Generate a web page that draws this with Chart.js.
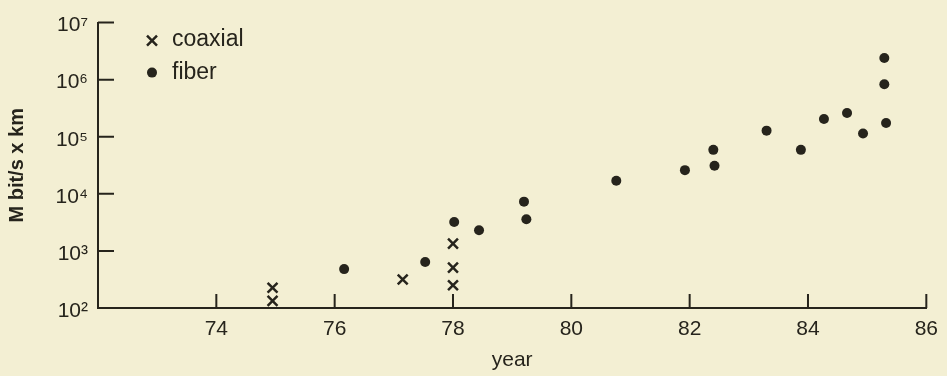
<!DOCTYPE html>
<html>
<head>
<meta charset="utf-8">
<script src="https://cdn.jsdelivr.net/npm/chart.js@4.4.1/dist/chart.umd.min.js"></script>
<style>
  html, body { margin: 0; padding: 0; background: #f3efd3; }
  #wrap { width: 947px; height: 376px; }
</style>
</head>
<body>
<div id="wrap"><canvas id="grafico"></canvas></div>
<script>
// dados
const coaxialYear  = [74.95, 74.95, 77.15, 78.0, 78.0, 78.0];
const coaxialValue = [226, 133, 316, 1340, 510, 250];
const fiberYear  = [76.16, 77.53, 78.02, 78.44, 79.2, 79.24, 80.76, 81.92, 82.4, 82.42,
                    83.3, 83.88, 84.27, 84.66, 84.93, 85.29, 85.29, 85.32];
const fiberValue = [480, 640, 3200, 2300, 7300, 3600, 17000, 26000, 59000, 31000,
                    128000, 59000, 204000, 260000, 114000, 2400000, 830000, 174000];
const xTicks = [74, 76, 78, 80, 82, 84, 86];
const yTicks = [1e2, 1e3, 1e4, 1e5, 1e6, 1e7];

const ink = '#26241c';
const paper = '#f3efd3';
const sup = '⁰¹²³⁴⁵⁶⁷⁸⁹';

Chart.defaults.font.family = '"Liberation Sans", Arial, Helvetica, sans-serif';
Chart.defaults.color = ink;

// ticks para dentro + legenda dentro da área
const extras = {
  id: 'extras',
  beforeDraw(chart) {
    const ctx = chart.ctx;
    ctx.save();
    ctx.fillStyle = paper;
    ctx.fillRect(0, 0, chart.width, chart.height);
    ctx.restore();
  },
  afterDraw(chart) {
    const { ctx, chartArea: a, scales: { x, y } } = chart;
    ctx.save();
    ctx.strokeStyle = ink;
    ctx.lineWidth = 2;
    ctx.beginPath();
    xTicks.forEach(v => {
      const px = x.getPixelForValue(v);
      ctx.moveTo(px, a.bottom);
      ctx.lineTo(px, a.bottom - 14);
    });
    yTicks.forEach(v => {
      const py = y.getPixelForValue(v);
      ctx.moveTo(a.left, py);
      ctx.lineTo(a.left + 16, py);
    });
    ctx.stroke();

    // legenda
    const lx = a.left + 54, tx = a.left + 74;
    const rows = [a.top + 17, a.top + 50];
    const ds = chart.data.datasets;
    ctx.font = '23px "Liberation Sans", Arial, sans-serif';
    ctx.textBaseline = 'middle';
    ctx.fillStyle = ink;
    // coaxial: x
    ctx.lineWidth = 2.5;
    ctx.beginPath();
    ctx.moveTo(lx - 5, rows[0] - 4); ctx.lineTo(lx + 5, rows[0] + 6);
    ctx.moveTo(lx + 5, rows[0] - 4); ctx.lineTo(lx - 5, rows[0] + 6);
    ctx.stroke();
    ctx.fillText(ds[0].label, tx, rows[0]);
    // fiber: ponto
    ctx.beginPath();
    ctx.arc(lx, rows[1], 5, 0, Math.PI * 2);
    ctx.fill();
    ctx.fillText(ds[1].label, tx, rows[1]);
    ctx.restore();
  }
};

const grafico = new Chart(document.getElementById('grafico'), {
  type: 'scatter',
  data: {
    datasets: [
      {
        label: 'coaxial',
        data: coaxialYear.map((v, i) => ({ x: v, y: coaxialValue[i] })),
        pointStyle: 'crossRot',
        pointRadius: 7,
        borderWidth: 2.5,
        borderColor: ink,
        backgroundColor: ink
      },
      {
        label: 'fiber',
        data: fiberYear.map((v, i) => ({ x: v, y: fiberValue[i] })),
        pointStyle: 'circle',
        pointRadius: 5,
        borderWidth: 0,
        backgroundColor: ink
      }
    ]
  },
  options: {
    responsive: true,
    maintainAspectRatio: false,
    animation: false,
    layout: { padding: { top: 15, right: 17, left: 0, bottom: 0 } },
    plugins: { legend: { display: false }, tooltip: { enabled: false } },
    scales: {
      x: {
        type: 'linear',
        min: 72,
        max: 86,
        afterBuildTicks: s => { s.ticks = xTicks.map(v => ({ value: v })); },
        afterFit: s => { s.height = 68; },
        grid: { display: false, drawTicks: false },
        border: { display: true, color: ink, width: 2 },
        ticks: { color: ink, font: { size: 21 }, padding: 9, maxRotation: 0, autoSkip: false },
        title: { display: true, text: 'year', color: ink, font: { size: 21 }, padding: { top: 0, bottom: 3 } }
      },
      y: {
        type: 'logarithmic',
        min: 100,
        max: 1e7,
        afterBuildTicks: s => { s.ticks = yTicks.map(v => ({ value: v })); },
        afterFit: s => { s.width = 98; },
        grid: { display: false, drawTicks: false },
        border: { display: true, color: ink, width: 2 },
        ticks: {
          color: ink,
          font: { size: 21 },
          padding: 10,
          labelOffset: 3,
          callback: v => '10' + sup[Math.round(Math.log10(v))]
        },
        title: { display: true, text: 'M bit/s x km', color: ink, font: { size: 20, weight: 'bold' }, padding: { top: 5, bottom: 0 } }
      }
    }
  },
  plugins: [extras]
});
</script>
</body>
</html>
